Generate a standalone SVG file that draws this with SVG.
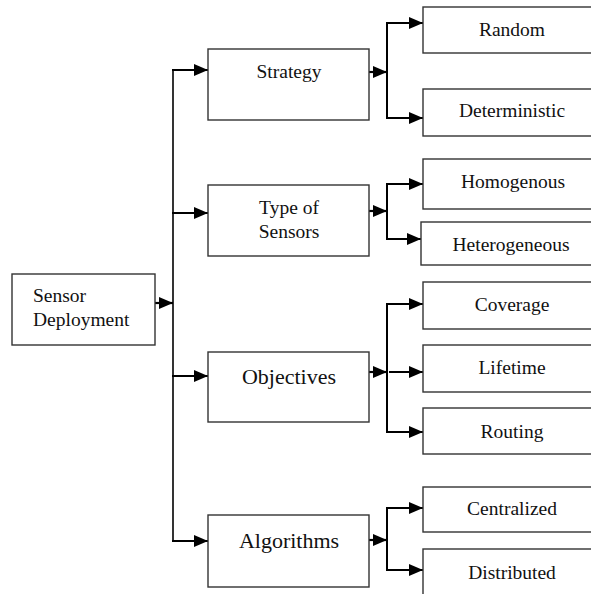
<svg xmlns="http://www.w3.org/2000/svg" width="591" height="594" viewBox="0 0 591 594">
<defs>
<marker id="ah" markerUnits="userSpaceOnUse" markerWidth="14" markerHeight="12" refX="14" refY="6" orient="auto">
<path d="M0,0 L14,6 L0,12 z" fill="#000"/>
</marker>
<style>
.box{fill:#fff;stroke:#333;stroke-width:1.4}
.t{font-family:"Liberation Serif","Times New Roman",serif;font-size:19.5px;fill:#111;text-anchor:middle}
.tl{font-family:"Liberation Serif","Times New Roman",serif;font-size:19.5px;fill:#111}
.big{font-size:22px}
.c{fill:none;stroke:#000;stroke-width:2}
.a{fill:none;stroke:#000;stroke-width:2.2;marker-end:url(#ah)}
</style>
</defs>
<rect width="591" height="594" fill="#fff"/>
<g id="connectors">
<line class="c" x1="173" y1="69" x2="173" y2="542" style="stroke-width:1.6"/>
<line class="a" x1="155" y1="303" x2="173" y2="303"/>
<path class="a" d="M172,70 H208"/>
<path class="a" d="M172,213 H208"/>
<path class="a" d="M172,376 H208"/>
<path class="a" d="M172,541 H208"/>
<path class="a" d="M369,72 H387"/>
<path class="c" d="M387,22 V119"/>
<path class="a" d="M386,23 H423"/>
<path class="a" d="M386,118 H423"/>
<path class="a" d="M369,211 H387"/>
<path class="c" d="M387,183 V240"/>
<path class="a" d="M386,184 H423"/>
<path class="a" d="M386,239 H421"/>
<path class="a" d="M369,372 H387"/>
<path class="c" d="M387,303 V433"/>
<path class="a" d="M386,304 H423"/>
<path class="a" d="M389,372 H423"/>
<path class="a" d="M386,432 H423"/>
<path class="a" d="M369,540 H387"/>
<path class="c" d="M387,507 V571"/>
<path class="a" d="M386,508 H423"/>
<path class="a" d="M386,570 H423"/>
</g>
<g id="sensor-deployment">
<rect class="box" x="12" y="274" width="143" height="71"/>
<text class="tl" x="33" y="302">Sensor</text>
<text class="tl" x="33" y="326">Deployment</text>
</g>
<g id="strategy">
<rect class="box" x="208" y="49" width="161" height="71"/>
<text class="t" x="289" y="78">Strategy</text>
</g>
<g id="type-of-sensors">
<rect class="box" x="208" y="185" width="161" height="71"/>
<text class="t" x="289" y="214">Type of</text>
<text class="t" x="289" y="238">Sensors</text>
</g>
<g id="objectives">
<rect class="box" x="208" y="352" width="161" height="70"/>
<text class="t big" x="289" y="384">Objectives</text>
</g>
<g id="algorithms">
<rect class="box" x="208" y="515" width="161" height="72"/>
<text class="t big" x="289" y="548">Algorithms</text>
</g>
<g id="random">
<rect class="box" x="423" y="7" width="180" height="46"/>
<text class="t" x="512" y="36">Random</text>
</g>
<g id="deterministic">
<rect class="box" x="423" y="89" width="180" height="47"/>
<text class="t" x="512" y="117">Deterministic</text>
</g>
<g id="homogenous">
<rect class="box" x="423" y="159" width="180" height="50"/>
<text class="t" x="513" y="188">Homogenous</text>
</g>
<g id="heterogeneous">
<rect class="box" x="421" y="222" width="182" height="43"/>
<text class="t" x="511" y="251">Heterogeneous</text>
</g>
<g id="coverage">
<rect class="box" x="423" y="282" width="180" height="47"/>
<text class="t" x="512" y="311">Coverage</text>
</g>
<g id="lifetime">
<rect class="box" x="423" y="345" width="180" height="47"/>
<text class="t" x="512" y="374">Lifetime</text>
</g>
<g id="routing">
<rect class="box" x="423" y="408" width="180" height="46"/>
<text class="t" x="512" y="438">Routing</text>
</g>
<g id="centralized">
<rect class="box" x="423" y="487" width="180" height="45"/>
<text class="t" x="512" y="515">Centralized</text>
</g>
<g id="distributed">
<rect class="box" x="423" y="549" width="180" height="60"/>
<text class="t" x="512" y="579">Distributed</text>
</g>
</svg>
